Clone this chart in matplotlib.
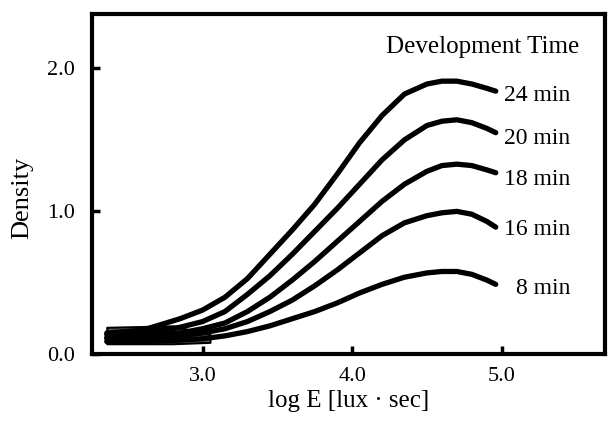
"""
Characteristic curves (density vs. log exposure) for several development times.
"""
import matplotlib
matplotlib.use("Agg")
import matplotlib.pyplot as plt

# ---------------------------------------------------------------------------
# Data
# ---------------------------------------------------------------------------
log_e = [2.36, 2.6, 2.85, 3.0, 3.15, 3.3, 3.45, 3.6, 3.75, 3.9,
         4.05, 4.2, 4.35, 4.5, 4.6, 4.7, 4.8, 4.9, 4.96]

dens_24 = [0.15, 0.17, 0.25, 0.31, 0.40, 0.53, 0.70, 0.87, 1.05, 1.26,
           1.48, 1.67, 1.82, 1.89, 1.91, 1.91, 1.89, 1.86, 1.84]
dens_20 = [0.14, 0.15, 0.19, 0.23, 0.30, 0.42, 0.55, 0.70, 0.86, 1.02,
           1.19, 1.36, 1.50, 1.60, 1.63, 1.64, 1.62, 1.58, 1.55]
dens_18 = [0.12, 0.13, 0.15, 0.18, 0.22, 0.30, 0.40, 0.52, 0.65, 0.79,
           0.93, 1.07, 1.19, 1.28, 1.32, 1.33, 1.32, 1.29, 1.27]
dens_16 = [0.11, 0.11, 0.13, 0.15, 0.18, 0.23, 0.30, 0.38, 0.48, 0.59,
           0.71, 0.83, 0.92, 0.97, 0.99, 1.00, 0.98, 0.93, 0.89]
dens_8 = [0.09, 0.09, 0.10, 0.11, 0.13, 0.16, 0.20, 0.25, 0.30, 0.36,
          0.43, 0.49, 0.54, 0.57, 0.58, 0.58, 0.56, 0.52, 0.49]

curve_labels = ["24 min", "20 min", "18 min", "16 min", "8 min"]
label_y = [1.81, 1.51, 1.22, 0.875, 0.46]

# shaded fog band where the curves merge
band_x = [2.36, 2.8, 3.05]
band_low = [0.075, 0.075, 0.085]
band_high = [0.19, 0.20, 0.14]

xticks = [3.0, 4.0, 5.0]
yticks = [0.0, 1.0, 2.0]

# ---------------------------------------------------------------------------
# Plot
# ---------------------------------------------------------------------------
plt.rcParams["font.family"] = ["Liberation Serif", "DejaVu Serif"]

fig = plt.figure(figsize=(6.08, 4.21), dpi=100)
ax = fig.add_axes([0.151, 0.158, 0.844, 0.809])

ax.fill_between(band_x, band_low, band_high, facecolor="#666666",
                edgecolor="black", linewidth=1.5, zorder=2)

for d in (dens_24, dens_20, dens_18, dens_16, dens_8):
    ax.plot(log_e, d, color="black", linewidth=3.8,
            solid_capstyle="round", solid_joinstyle="round", zorder=3)

for lab, y in zip(curve_labels, label_y):
    ax.text(5.46, y, lab, ha="right", va="center", fontsize=17)

ax.text(5.52, 2.15, "Development Time", ha="right", va="center", fontsize=18)

ax.set_xlim(2.26, 5.69)
ax.set_ylim(0.0, 2.38)
ax.set_xticks(xticks)
ax.set_xticklabels(["3.0", "4.0", "5.0"])
ax.set_yticks(yticks)
ax.set_yticklabels(["0.0", "1.0", "2.0"])
ax.tick_params(direction="in", length=6, width=2.5, labelsize=16)
ax.tick_params(axis="x", pad=9)
ax.tick_params(axis="y", pad=12)

for sp in ax.spines.values():
    sp.set_linewidth(3)

ax.set_xlabel("log E [lux \u00b7 sec]", fontsize=18, labelpad=3)
ax.set_ylabel("Density", fontsize=19, labelpad=10, y=0.46)

fig.savefig("out.png", dpi=100, facecolor="white")
